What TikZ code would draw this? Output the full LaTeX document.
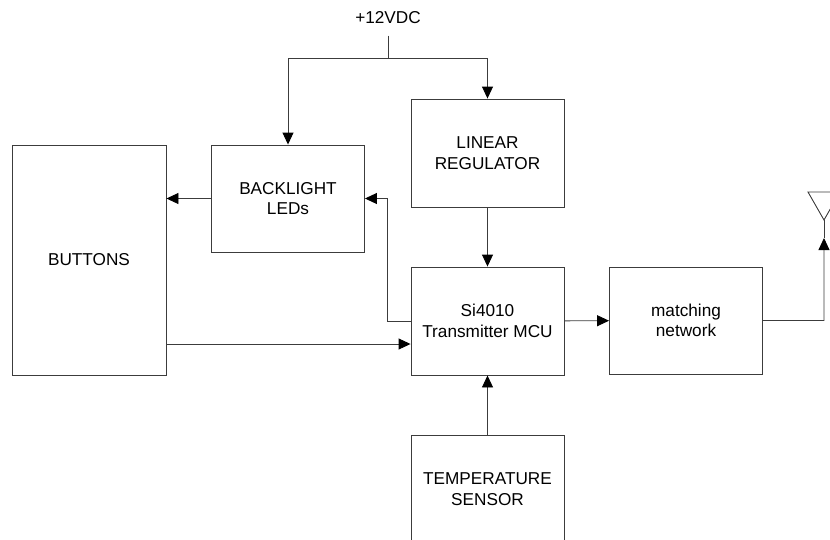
\documentclass[tikz,border=0pt]{standalone}
\usepackage{fontspec}
\setmainfont{Liberation Sans}
\usetikzlibrary{arrows.meta, calc}
\definecolor{blkline}{HTML}{3C3C3C}
\tikzset{
  blk/.style  = {draw=blkline, line width=0.9pt, align=center,
                 minimum width=153pt, minimum height=108pt, inner sep=2pt,
                 font=\fontsize{17.2}{20.5}\selectfont},
  wire/.style = {draw=blkline, line width=0.9pt},
  flow/.style = {wire, -{Triangle[length=12pt, width=11pt, color=black, fill=black]}},
}

\begin{document}
\begin{tikzpicture}[x=1pt, y=-1pt]
        \useasboundingbox (0,0) rectangle (830,539);
        \clip (0,0) rectangle (830,539);
        \node[blk, minimum width=154pt, minimum height=230pt] (buttons) at (89,260) {BUTTONS};
        \node[blk, minimum height=107pt] (backlight) at (288,198.5) {BACKLIGHT\\LEDs};
        \node[blk] (linreg) at (487.5,153) {LINEAR\\REGULATOR};
        \node[blk] (si)     at (487.5,321) {Si4010\\Transmitter MCU};
        \node[blk, minimum height=107pt] (match) at (686,320.5) {matching\\network};
        \node[blk] (temp)   at (487.5,489) {TEMPERATURE\\SENSOR};
        \node[font=\fontsize{17.2}{20}\selectfont, anchor=base] (vdc) at (388,23) {+12VDC};
        % supply split
        \coordinate (split) at (388,58);
        \draw[wire] ([yshift=-9pt]vdc.south) -- (split);
        \draw[flow] (split) -| (backlight.north);
        \draw[flow] (split) -| (linreg.north);
        % signal paths
        \draw[flow] (linreg) -- (si);
        \draw[flow] (temp) -- (si);
        \draw[flow] (si) -- (match);
        \draw[flow] (si.west) -- ++(-23,0) |- (backlight.east);
        \draw[flow] (backlight.west) -- (buttons.east |- backlight.west);
        \draw[flow] (buttons.east |- 0,344) -- (si.west |- 0,344);
        % antenna
        \coordinate (ant) at (824,220);
        \draw[wire] (808,192) -- (840,192) -- (ant) -- cycle;
        \draw[wire] (ant) -- (824,238);
        \draw[flow] (match.east) -- ++(61,0) -- (824,238);
    \end{tikzpicture}
\end{document}
